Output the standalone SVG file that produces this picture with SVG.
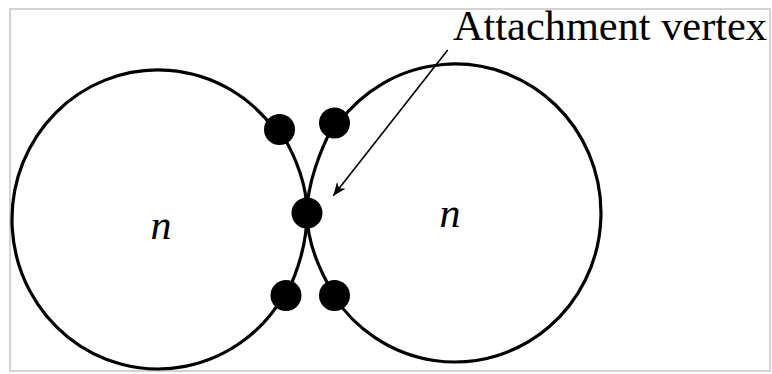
<svg xmlns="http://www.w3.org/2000/svg" width="772" height="374" viewBox="0 0 772 374">
<style>
.curve{fill:none;stroke:#000;stroke-width:3.2;stroke-linecap:round}
.dot{fill:#000}
.lbl{font-family:"Liberation Serif","DejaVu Serif",serif;fill:#000}
.var{font-family:"Liberation Serif","DejaVu Serif",serif;font-style:italic;font-size:42px;fill:#000;text-anchor:middle}
</style>
<defs>
<marker id="ah" markerWidth="16" markerHeight="14" refX="13" refY="7" orient="auto" markerUnits="userSpaceOnUse">
<path d="M0,1.5 L13,7 L0,12.5 L3.5,7 Z" fill="#000"/>
</marker>
</defs>
<rect x="10" y="9" width="760" height="362" fill="#fff" stroke="#d3d3d3" stroke-width="2"/>
<g id="connectors">
<path class="curve" d="M279.5,129.5 L274.6,129.5 A146,149.5 0 1 0 283.7,295.5 L286,295.5"/>
<path class="curve" d="M279.5,129.5 C295,155 307,185 307,213 C307,245 296,275 286,295.5"/>
<path class="curve" d="M334.5,123 L338.6,123 A146,149 0 1 1 333.4,295.5 L334.5,295.5"/>
<path class="curve" d="M334.5,123 C320,150 307,185 307,213 C307,245 322,275 334.5,295.5"/>
<line x1="447.7" y1="50" x2="333.3" y2="195.7" stroke="#000" stroke-width="1.6" marker-end="url(#ah)"/>
</g>
<g id="v1"><circle class="dot" cx="279.5" cy="129.5" r="15.5"/></g>
<g id="v2"><circle class="dot" cx="334.5" cy="123" r="15.5"/></g>
<g id="attach"><circle class="dot" cx="307" cy="213" r="15.5"/></g>
<g id="v3"><circle class="dot" cx="286" cy="295.5" r="15.5"/></g>
<g id="v4"><circle class="dot" cx="334.5" cy="295.5" r="15.5"/></g>
<g id="left-label"><text class="var" x="161" y="239">n</text></g>
<g id="right-label"><text class="var" x="450" y="227">n</text></g>
<g id="title"><text class="lbl" x="453" y="40" font-size="43" textLength="314" lengthAdjust="spacingAndGlyphs">Attachment vertex</text></g>
</svg>
